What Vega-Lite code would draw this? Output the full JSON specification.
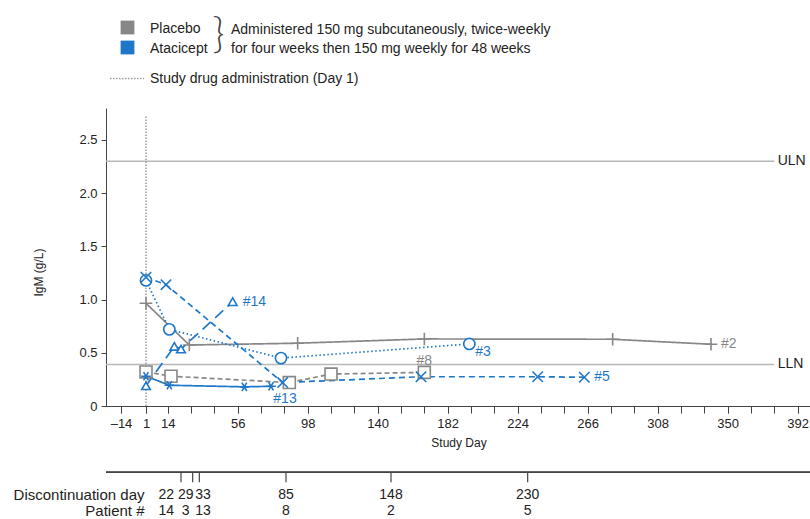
{
  "$schema": "https://vega.github.io/schema/vega-lite/v6.json",
  "background": "white",
  "padding": {"left": 13, "top": 0, "right": 0, "bottom": 0},
  "spacing": 18,
  "config": {
    "view": {"stroke": null},
    "font": "Liberation Sans",
    "axis": {"labelFont": "Liberation Sans", "titleFont": "Liberation Sans", "domainColor": "#444", "tickColor": "#444", "labelColor": "#222", "titleColor": "#222", "titleFontWeight": "normal", "grid": false}
  },
  "datasets": {
    "patients": [
      {"patient": "#2", "group": "Placebo", "day": 1, "igm": 0.965},
      {"patient": "#2", "group": "Placebo", "day": 27, "igm": 0.573},
      {"patient": "#2", "group": "Placebo", "day": 92, "igm": 0.59},
      {"patient": "#2", "group": "Placebo", "day": 168, "igm": 0.63},
      {"patient": "#2", "group": "Placebo", "day": 281, "igm": 0.627},
      {"patient": "#2", "group": "Placebo", "day": 340, "igm": 0.58},
      {"patient": "#8", "group": "Placebo", "day": 1, "igm": 0.32},
      {"patient": "#8", "group": "Placebo", "day": 16, "igm": 0.28},
      {"patient": "#8", "group": "Placebo", "day": 87, "igm": 0.22},
      {"patient": "#8", "group": "Placebo", "day": 112, "igm": 0.3},
      {"patient": "#8", "group": "Placebo", "day": 168, "igm": 0.316},
      {"patient": "#3", "group": "Atacicept", "day": 1, "igm": 1.18},
      {"patient": "#3", "group": "Atacicept", "day": 15, "igm": 0.72},
      {"patient": "#3", "group": "Atacicept", "day": 82, "igm": 0.45},
      {"patient": "#3", "group": "Atacicept", "day": 195, "igm": 0.583},
      {"patient": "#5", "group": "Atacicept", "day": 1, "igm": 1.21},
      {"patient": "#5", "group": "Atacicept", "day": 13, "igm": 1.14},
      {"patient": "#5", "group": "Atacicept", "day": 83, "igm": 0.22},
      {"patient": "#5", "group": "Atacicept", "day": 166, "igm": 0.275},
      {"patient": "#5", "group": "Atacicept", "day": 236, "igm": 0.275},
      {"patient": "#5", "group": "Atacicept", "day": 264, "igm": 0.27},
      {"patient": "#13", "group": "Atacicept", "day": 1, "igm": 0.28},
      {"patient": "#13", "group": "Atacicept", "day": 15, "igm": 0.195},
      {"patient": "#13", "group": "Atacicept", "day": 60, "igm": 0.18},
      {"patient": "#13", "group": "Atacicept", "day": 76, "igm": 0.185},
      {"patient": "#14", "group": "Atacicept", "day": 1, "igm": 0.19},
      {"patient": "#14", "group": "Atacicept", "day": 18, "igm": 0.56},
      {"patient": "#14", "group": "Atacicept", "day": 22, "igm": 0.535},
      {"patient": "#14", "group": "Atacicept", "day": 53, "igm": 0.98}
    ],
    "refs": [
      {"ref": "ULN", "value": 2.3},
      {"ref": "LLN", "value": 0.39}
    ],
    "discontinuations": [
      {"day": 22, "patient": "14"},
      {"day": 29, "patient": "3"},
      {"day": 33, "patient": "13"},
      {"day": 85, "patient": "8"},
      {"day": 148, "patient": "2"},
      {"day": 230, "patient": "5"}
    ]
  },
  "vconcat": [
    {
      "width": 705,
      "height": 90,
      "data": {"values": [{}]},
      "layer": [
        {
          "mark": {"type": "point", "shape": "square", "filled": true, "size": 190, "opacity": 1},
          "encoding": {
            "x": {"datum": 3.05, "type": "quantitative", "scale": {"domain": [0, 100], "nice": false, "zero": false}, "axis": null},
            "y": {"datum": 2.75, "type": "quantitative", "scale": {"domain": [0, 9], "nice": false, "zero": false, "reverse": true}, "axis": null},
            "color": {"datum": "Placebo", "type": "nominal", "scale": {"domain": ["Placebo", "Atacicept"], "range": ["#878787", "#1f77c9"]}, "legend": null}
          }
        },
        {
          "mark": {"type": "point", "shape": "square", "filled": true, "size": 190, "opacity": 1},
          "encoding": {
            "x": {"datum": 3.05, "type": "quantitative", "axis": null},
            "y": {"datum": 4.75, "type": "quantitative", "axis": null},
            "color": {"datum": "Atacicept", "type": "nominal", "legend": null}
          }
        },
        {
          "mark": {"type": "text", "text": "Placebo", "align": "left", "baseline": "alphabetic", "fontSize": 14, "color": "#222"},
          "encoding": {"x": {"datum": 6.24, "type": "quantitative", "axis": null}, "y": {"datum": 3.3, "type": "quantitative", "axis": null}}
        },
        {
          "mark": {"type": "text", "text": "Atacicept", "align": "left", "baseline": "alphabetic", "fontSize": 14, "color": "#222"},
          "encoding": {"x": {"datum": 6.24, "type": "quantitative", "axis": null}, "y": {"datum": 5.25, "type": "quantitative", "axis": null}}
        },
        {
          "mark": {"type": "text", "text": "}", "align": "left", "baseline": "alphabetic", "fontSize": 41, "font": "Lato", "fontWeight": 300, "color": "#444"},
          "encoding": {"x": {"datum": 15.1, "type": "quantitative", "axis": null}, "y": {"datum": 4.75, "type": "quantitative", "axis": null}}
        },
        {
          "mark": {"type": "text", "text": "Administered 150 mg subcutaneously, twice-weekly", "align": "left", "baseline": "alphabetic", "fontSize": 14, "color": "#222"},
          "encoding": {"x": {"datum": 17.73, "type": "quantitative", "axis": null}, "y": {"datum": 3.35, "type": "quantitative", "axis": null}}
        },
        {
          "mark": {"type": "text", "text": "for four weeks then 150 mg weekly for 48 weeks", "align": "left", "baseline": "alphabetic", "fontSize": 14, "color": "#222"},
          "encoding": {"x": {"datum": 17.73, "type": "quantitative", "axis": null}, "y": {"datum": 5.3, "type": "quantitative", "axis": null}}
        },
        {
          "mark": {"type": "rule", "color": "#9a9a9a", "strokeDash": [1.5, 1.5], "strokeWidth": 1.5},
          "encoding": {"x": {"datum": 0.57, "type": "quantitative", "axis": null}, "x2": {"datum": 5.39}, "y": {"datum": 7.85, "type": "quantitative", "axis": null}}
        },
        {
          "mark": {"type": "text", "text": "Study drug administration (Day 1)", "align": "left", "baseline": "alphabetic", "fontSize": 14, "color": "#222"},
          "encoding": {"x": {"datum": 6.24, "type": "quantitative", "axis": null}, "y": {"datum": 8.25, "type": "quantitative", "axis": null}}
        }
      ]
    },
    {
      "width": 705,
      "height": 298,
      "resolve": {"axis": {"x": "independent"}},
      "layer": [
        {
          "data": {"name": "refs"},
          "mark": {"type": "rule", "color": "#b8b8b8", "strokeWidth": 1.5},
          "encoding": {
            "x": {"datum": -23, "type": "quantitative", "scale": {"domain": [-23, 400], "nice": false, "zero": false}, "axis": null},
            "x2": {"datum": 378},
            "y": {"field": "value", "type": "quantitative", "scale": {"domain": [0, 2.8], "nice": false, "zero": false}, "title": "IgM (g/L)"}
          }
        },
        {
          "data": {"name": "refs"},
          "mark": {"type": "text", "align": "left", "baseline": "middle", "fontSize": 14, "color": "#222"},
          "encoding": {
            "x": {"datum": 380, "type": "quantitative", "axis": null},
            "y": {"field": "value", "type": "quantitative", "title": "IgM (g/L)"},
            "text": {"field": "ref"}
          }
        },
        {
          "data": {"values": [{}]},
          "mark": {"type": "rule", "color": "#9a9a9a", "strokeDash": [1.5, 1.5], "strokeWidth": 1.5},
          "encoding": {
            "x": {"datum": 1, "type": "quantitative", "axis": {"orient": "bottom", "values": [-14, 1, 14, 28, 42, 56, 70, 84, 98, 112, 126, 140, 154, 168, 182, 196, 210, 224, 238, 252, 266, 280, 294, 308, 322, 336, 350, 364, 378, 392], "labels": false, "tickSize": 7, "title": null, "domain": true}},
            "y": {"datum": 0, "type": "quantitative", "title": "IgM (g/L)"},
            "y2": {"datum": 2.73}
          }
        },
        {
          "data": {"name": "patients"},
          "mark": {"type": "line", "strokeWidth": 1.7},
          "encoding": {
            "x": {
              "field": "day", "type": "quantitative",
              "title": "Study Day",
              "axis": {
                "orient": "bottom",
                "values": [-14, 1, 14, 56, 98, 140, 182, 224, 266, 308, 350, 392],
                "labelExpr": "datum.value == -14 ? '–14' : datum.label",
                "labelOverlap": false, "labelFlush": false,
                "tickSize": 7, "labelPadding": 4, "labelFontSize": 13, "titleFontSize": 12, "titlePadding": 7
              }
            },
            "y": {
              "field": "igm", "type": "quantitative",
              "title": "IgM (g/L)",
              "axis": {
                "values": [0, 0.5, 1, 1.5, 2, 2.5],
                "labelExpr": "datum.value == 0 ? '0' : format(datum.value, '.1f')",
                "labelOverlap": false,
                "tickSize": 5, "labelPadding": 4, "labelFontSize": 13, "titleFontSize": 12,
                "titleX": -68, "titleY": 164, "titleBaseline": "middle", "titleAngle": -90
              }
            },
            "color": {"field": "group", "type": "nominal", "legend": null},
            "strokeDash": {"field": "patient", "type": "nominal", "scale": {"domain": ["#2", "#8", "#3", "#5", "#13", "#14"], "range": [[1, 0], [5, 3], [1.5, 2.5], [6, 4], [1, 0], [11, 6]]}, "legend": null},
            "detail": {"field": "patient"},
            "order": {"field": "day", "type": "quantitative"}
          }
        },
        {
          "data": {"name": "patients"},
          "mark": {"type": "point", "filled": false, "fill": "white", "strokeWidth": 1.6, "opacity": 1},
          "encoding": {
            "x": {"field": "day", "type": "quantitative", "axis": null},
            "y": {"field": "igm", "type": "quantitative", "title": "IgM (g/L)"},
            "color": {"field": "group", "type": "nominal", "legend": null},
            "shape": {"field": "patient", "type": "nominal", "scale": {"domain": ["#2", "#8", "#3", "#5", "#13", "#14"], "range": ["M-1,0L1,0M0,-1L0,1", "square", "circle", "M-1,-1L1,1M-1,1L1,-1", "M-1,0L1,0M-0.5,-0.866L0.5,0.866M-0.5,0.866L0.5,-0.866", "triangle-up"]}, "legend": null},
            "size": {"field": "patient", "type": "nominal", "scale": {"domain": ["#2", "#8", "#3", "#5", "#13", "#14"], "range": [160, 75, 90, 100, 170, 130]}, "legend": null}
          }
        },
        {
          "data": {"name": "patients"},
          "transform": [
            {"joinaggregate": [{"op": "max", "field": "day", "as": "lastDay"}], "groupby": ["patient"]},
            {"filter": "datum.day == datum.lastDay"},
            {"filter": {"field": "patient", "oneOf": ["#14", "#2", "#5"]}}
          ],
          "mark": {"type": "text", "align": "left", "baseline": "middle", "fontSize": 14, "dx": 10},
          "encoding": {
            "x": {"field": "day", "type": "quantitative", "axis": null},
            "y": {"field": "igm", "type": "quantitative", "title": "IgM (g/L)"},
            "color": {"field": "group", "type": "nominal", "legend": null},
            "text": {"field": "patient"}
          }
        },
        {
          "data": {"name": "patients"},
          "transform": [
            {"joinaggregate": [{"op": "max", "field": "day", "as": "lastDay"}], "groupby": ["patient"]},
            {"filter": "datum.day == datum.lastDay"},
            {"filter": {"field": "patient", "equal": "#3"}}
          ],
          "mark": {"type": "text", "align": "left", "baseline": "middle", "fontSize": 14, "dx": 6, "dy": 8},
          "encoding": {
            "x": {"field": "day", "type": "quantitative", "axis": null},
            "y": {"field": "igm", "type": "quantitative", "title": "IgM (g/L)"},
            "color": {"field": "group", "type": "nominal", "legend": null},
            "text": {"field": "patient"}
          }
        },
        {
          "data": {"name": "patients"},
          "transform": [
            {"joinaggregate": [{"op": "max", "field": "day", "as": "lastDay"}], "groupby": ["patient"]},
            {"filter": "datum.day == datum.lastDay"},
            {"filter": {"field": "patient", "equal": "#8"}}
          ],
          "mark": {"type": "text", "align": "center", "baseline": "middle", "fontSize": 14, "dy": -11},
          "encoding": {
            "x": {"field": "day", "type": "quantitative", "axis": null},
            "y": {"field": "igm", "type": "quantitative", "title": "IgM (g/L)"},
            "color": {"field": "group", "type": "nominal", "legend": null},
            "text": {"field": "patient"}
          }
        },
        {
          "data": {"name": "patients"},
          "transform": [
            {"joinaggregate": [{"op": "max", "field": "day", "as": "lastDay"}], "groupby": ["patient"]},
            {"filter": "datum.day == datum.lastDay"},
            {"filter": {"field": "patient", "equal": "#13"}}
          ],
          "mark": {"type": "text", "align": "center", "baseline": "middle", "fontSize": 14, "dx": 14, "dy": 13},
          "encoding": {
            "x": {"field": "day", "type": "quantitative", "axis": null},
            "y": {"field": "igm", "type": "quantitative", "title": "IgM (g/L)"},
            "color": {"field": "group", "type": "nominal", "legend": null},
            "text": {"field": "patient"}
          }
        }
      ]
    },
    {
      "width": 705,
      "height": 54,
      "data": {"name": "discontinuations"},
      "layer": [
        {
          "mark": {"type": "rule", "color": "#444", "strokeWidth": 1.2},
          "encoding": {
            "y": {
              "datum": 0.33, "type": "quantitative",
              "scale": {"domain": [0, 2.84], "nice": false, "zero": false, "reverse": true},
              "axis": {"values": [1.51, 2.36], "labelExpr": "datum.value < 2 ? 'Discontinuation day' : 'Patient #'", "domain": false, "ticks": false, "labelPadding": -38, "labelFontSize": 15, "title": null, "grid": false}
            }
          }
        },
        {
          "mark": {"type": "rule", "color": "#444", "strokeWidth": 1.2},
          "encoding": {
            "x": {"field": "day", "type": "quantitative", "scale": {"domain": [-23, 400], "nice": false, "zero": false}, "axis": null},
            "y": {"datum": 0.33, "type": "quantitative"},
            "y2": {"datum": 0.86}
          }
        },
        {
          "transform": [{"filter": {"field": "day", "oneOf": [85, 148, 230]}}],
          "mark": {"type": "text", "align": "center", "baseline": "middle", "fontSize": 14, "color": "#222"},
          "encoding": {"x": {"field": "day", "type": "quantitative"}, "y": {"datum": 1.51, "type": "quantitative"}, "text": {"field": "day"}}
        },
        {
          "transform": [{"filter": {"field": "day", "oneOf": [85, 148, 230]}}],
          "mark": {"type": "text", "align": "center", "baseline": "middle", "fontSize": 14, "color": "#222"},
          "encoding": {"x": {"field": "day", "type": "quantitative"}, "y": {"datum": 2.36, "type": "quantitative"}, "text": {"field": "patient"}}
        },
        {
          "transform": [{"filter": {"field": "day", "equal": 22}}],
          "mark": {"type": "text", "align": "right", "baseline": "middle", "fontSize": 14, "color": "#222", "dx": -7},
          "encoding": {"x": {"field": "day", "type": "quantitative"}, "y": {"datum": 1.51, "type": "quantitative"}, "text": {"field": "day"}}
        },
        {
          "transform": [{"filter": {"field": "day", "equal": 22}}],
          "mark": {"type": "text", "align": "right", "baseline": "middle", "fontSize": 14, "color": "#222", "dx": -7},
          "encoding": {"x": {"field": "day", "type": "quantitative"}, "y": {"datum": 2.36, "type": "quantitative"}, "text": {"field": "patient"}}
        },
        {
          "transform": [{"filter": {"field": "day", "equal": 29}}],
          "mark": {"type": "text", "align": "center", "baseline": "middle", "fontSize": 14, "color": "#222", "dx": -7},
          "encoding": {"x": {"field": "day", "type": "quantitative"}, "y": {"datum": 1.51, "type": "quantitative"}, "text": {"field": "day"}}
        },
        {
          "transform": [{"filter": {"field": "day", "equal": 29}}],
          "mark": {"type": "text", "align": "center", "baseline": "middle", "fontSize": 14, "color": "#222", "dx": -7},
          "encoding": {"x": {"field": "day", "type": "quantitative"}, "y": {"datum": 2.36, "type": "quantitative"}, "text": {"field": "patient"}}
        },
        {
          "transform": [{"filter": {"field": "day", "equal": 33}}],
          "mark": {"type": "text", "align": "left", "baseline": "middle", "fontSize": 14, "color": "#222", "dx": -4},
          "encoding": {"x": {"field": "day", "type": "quantitative"}, "y": {"datum": 1.51, "type": "quantitative"}, "text": {"field": "day"}}
        },
        {
          "transform": [{"filter": {"field": "day", "equal": 33}}],
          "mark": {"type": "text", "align": "left", "baseline": "middle", "fontSize": 14, "color": "#222", "dx": -4},
          "encoding": {"x": {"field": "day", "type": "quantitative"}, "y": {"datum": 2.36, "type": "quantitative"}, "text": {"field": "patient"}}
        }
      ]
    }
  ]
}
